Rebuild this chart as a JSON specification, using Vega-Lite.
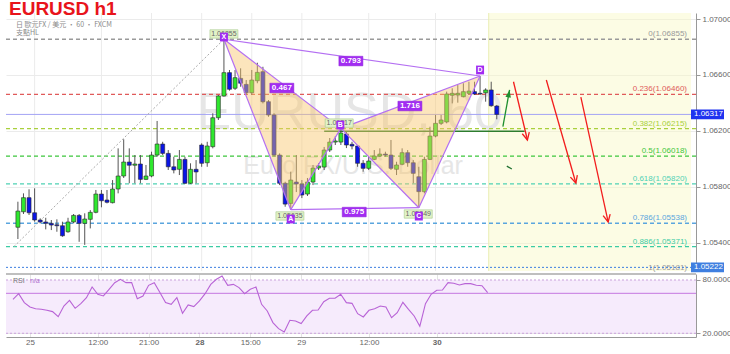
{
  "$schema": "https://vega.github.io/schema/vega-lite/v6.json",
  "padding": {"left": 5, "top": 0, "right": 0, "bottom": 0},
  "background": "white",
  "spacing": 0,
  "config": {"font": "Liberation Sans", "view": {"stroke": null}},
  "datasets": {
    "one": [{}],
    "vgrid": [{"g":3},{"g":15},{"g":24},{"g":33},{"g":42},{"g":51},{"g":63},{"g":75}],
    "candles": [
      {"i":0,"o":1.05509,"h":1.05692,"l":1.05425,"c":1.05625},
      {"i":1,"o":1.05620,"h":1.05752,"l":1.05604,"c":1.05721},
      {"i":2,"o":1.05721,"h":1.05781,"l":1.05597,"c":1.05613},
      {"i":3,"o":1.05613,"h":1.05788,"l":1.05549,"c":1.05561},
      {"i":4,"o":1.05561,"h":1.05573,"l":1.05537,"c":1.05547},
      {"i":5,"o":1.05547,"h":1.05577,"l":1.05494,"c":1.05537},
      {"i":6,"o":1.05537,"h":1.05561,"l":1.05489,"c":1.05525},
      {"i":7,"o":1.05527,"h":1.05566,"l":1.05477,"c":1.05520},
      {"i":8,"o":1.05520,"h":1.05549,"l":1.05441,"c":1.05448},
      {"i":9,"o":1.05477,"h":1.05577,"l":1.05470,"c":1.05547},
      {"i":10,"o":1.05547,"h":1.05604,"l":1.05537,"c":1.05594},
      {"i":11,"o":1.05594,"h":1.05604,"l":1.05405,"c":1.05537},
      {"i":12,"o":1.05537,"h":1.05609,"l":1.05383,"c":1.05568},
      {"i":13,"o":1.05566,"h":1.05632,"l":1.05501,"c":1.05616},
      {"i":14,"o":1.05616,"h":1.05776,"l":1.05609,"c":1.05747},
      {"i":15,"o":1.05747,"h":1.05776,"l":1.05652,"c":1.05699},
      {"i":16,"o":1.05704,"h":1.05776,"l":1.05680,"c":1.05688},
      {"i":17,"o":1.05685,"h":1.05847,"l":1.05680,"c":1.05783},
      {"i":18,"o":1.05783,"h":1.06074,"l":1.05752,"c":1.05876},
      {"i":19,"o":1.05876,"h":1.06139,"l":1.05862,"c":1.05976},
      {"i":20,"o":1.05976,"h":1.06074,"l":1.05824,"c":1.05953},
      {"i":21,"o":1.05953,"h":1.06026,"l":1.05824,"c":1.05962},
      {"i":22,"o":1.05962,"h":1.06026,"l":1.05824,"c":1.05852},
      {"i":23,"o":1.05852,"h":1.05955,"l":1.05847,"c":1.05876},
      {"i":24,"o":1.05876,"h":1.06050,"l":1.05867,"c":1.06026},
      {"i":25,"o":1.06026,"h":1.06270,"l":1.06014,"c":1.06105},
      {"i":26,"o":1.06105,"h":1.06121,"l":1.06026,"c":1.06038},
      {"i":27,"o":1.06038,"h":1.06062,"l":1.05919,"c":1.05942},
      {"i":28,"o":1.05942,"h":1.06014,"l":1.05895,"c":1.05919},
      {"i":29,"o":1.05924,"h":1.06062,"l":1.05883,"c":1.05995},
      {"i":30,"o":1.05995,"h":1.06014,"l":1.05819,"c":1.05824},
      {"i":31,"o":1.05824,"h":1.05967,"l":1.05819,"c":1.05924},
      {"i":32,"o":1.05924,"h":1.05990,"l":1.05824,"c":1.05905},
      {"i":33,"o":1.06098,"h":1.06110,"l":1.05942,"c":1.05967},
      {"i":34,"o":1.05971,"h":1.06121,"l":1.05942,"c":1.06091},
      {"i":35,"o":1.06086,"h":1.06325,"l":1.06074,"c":1.06293},
      {"i":36,"o":1.06293,"h":1.06456,"l":1.06277,"c":1.06449},
      {"i":37,"o":1.06449,"h":1.06855,"l":1.06444,"c":1.06616},
      {"i":38,"o":1.06616,"h":1.06635,"l":1.06487,"c":1.06497},
      {"i":39,"o":1.06504,"h":1.06635,"l":1.06492,"c":1.06580},
      {"i":40,"o":1.06575,"h":1.06647,"l":1.06515,"c":1.06540},
      {"i":41,"o":1.06532,"h":1.06563,"l":1.06456,"c":1.06472},
      {"i":42,"o":1.06472,"h":1.06635,"l":1.06456,"c":1.06563},
      {"i":43,"o":1.06558,"h":1.06687,"l":1.06540,"c":1.06618},
      {"i":44,"o":1.06623,"h":1.06658,"l":1.06396,"c":1.06408},
      {"i":45,"o":1.06408,"h":1.06420,"l":1.06300,"c":1.06313},
      {"i":46,"o":1.06313,"h":1.06325,"l":1.06014,"c":1.06026},
      {"i":47,"o":1.06026,"h":1.06038,"l":1.05811,"c":1.05824},
      {"i":48,"o":1.05824,"h":1.05835,"l":1.05656,"c":1.05675},
      {"i":49,"o":1.05680,"h":1.05907,"l":1.05635,"c":1.05847},
      {"i":50,"o":1.05833,"h":1.06026,"l":1.05761,"c":1.05819},
      {"i":51,"o":1.05819,"h":1.05847,"l":1.05718,"c":1.05740},
      {"i":52,"o":1.05747,"h":1.05862,"l":1.05733,"c":1.05833},
      {"i":53,"o":1.05833,"h":1.05955,"l":1.05811,"c":1.05933},
      {"i":54,"o":1.05933,"h":1.05969,"l":1.05919,"c":1.05948},
      {"i":55,"o":1.05940,"h":1.06084,"l":1.05919,"c":1.06062},
      {"i":56,"o":1.06062,"h":1.06148,"l":1.06048,"c":1.06119},
      {"i":57,"o":1.06119,"h":1.06162,"l":1.06098,"c":1.06127},
      {"i":58,"o":1.06119,"h":1.06217,"l":1.06098,"c":1.06184},
      {"i":59,"o":1.06177,"h":1.06191,"l":1.06076,"c":1.06098},
      {"i":60,"o":1.06103,"h":1.06121,"l":1.06067,"c":1.06091},
      {"i":61,"o":1.06091,"h":1.06098,"l":1.05942,"c":1.05967},
      {"i":62,"o":1.05967,"h":1.05990,"l":1.05907,"c":1.05931},
      {"i":63,"o":1.05931,"h":1.06014,"l":1.05919,"c":1.05983},
      {"i":64,"o":1.05995,"h":1.06062,"l":1.05990,"c":1.06019},
      {"i":65,"o":1.06019,"h":1.06074,"l":1.06014,"c":1.06033},
      {"i":66,"o":1.06033,"h":1.06050,"l":1.06014,"c":1.06026},
      {"i":67,"o":1.06026,"h":1.06134,"l":1.05919,"c":1.05931},
      {"i":68,"o":1.05924,"h":1.05978,"l":1.05883,"c":1.05955},
      {"i":69,"o":1.05960,"h":1.06074,"l":1.05953,"c":1.06043},
      {"i":70,"o":1.06043,"h":1.06062,"l":1.05942,"c":1.05971},
      {"i":71,"o":1.05971,"h":1.05990,"l":1.05824,"c":1.05895},
      {"i":72,"o":1.05871,"h":1.05942,"l":1.05649,"c":1.05764},
      {"i":73,"o":1.05764,"h":1.06014,"l":1.05752,"c":1.05995},
      {"i":74,"o":1.05995,"h":1.06229,"l":1.05990,"c":1.06162},
      {"i":75,"o":1.06162,"h":1.06313,"l":1.06153,"c":1.06253},
      {"i":76,"o":1.06253,"h":1.06313,"l":1.06241,"c":1.06277},
      {"i":77,"o":1.06263,"h":1.06480,"l":1.06253,"c":1.06463},
      {"i":78,"o":1.06454,"h":1.06504,"l":1.06396,"c":1.06468},
      {"i":79,"o":1.06456,"h":1.06527,"l":1.06401,"c":1.06468},
      {"i":80,"o":1.06444,"h":1.06540,"l":1.06439,"c":1.06480},
      {"i":81,"o":1.06468,"h":1.06551,"l":1.06456,"c":1.06484},
      {"i":82,"o":1.06480,"h":1.06551,"l":1.06456,"c":1.06463},
      {"i":83,"o":1.06468,"h":1.06592,"l":1.06456,"c":1.06463},
      {"i":84,"o":1.06472,"h":1.06504,"l":1.06408,"c":1.06492},
      {"i":85,"o":1.06492,"h":1.06551,"l":1.06372,"c":1.06379},
      {"i":86,"o":1.06377,"h":1.06384,"l":1.06282,"c":1.06317}
    ],
    "rsi": [
      {"i":0,"v":58.2},{"i":1,"v":64.6},{"i":2,"v":54.5},{"i":3,"v":49.6},{"i":4,"v":47.7},
      {"i":5,"v":47.0},{"i":6,"v":45.9},{"i":7,"v":44.4},{"i":8,"v":38.7},{"i":9,"v":50.7},
      {"i":10,"v":57.1},{"i":11,"v":48.1},{"i":12,"v":53.4},{"i":13,"v":60.1},{"i":14,"v":72.1},
      {"i":15,"v":63.9},{"i":16,"v":62.0},{"i":17,"v":69.5},{"i":18,"v":77.0},{"i":19,"v":80.8},
      {"i":20,"v":77.0},{"i":21,"v":77.0},{"i":22,"v":59.0},{"i":23,"v":62.0},{"i":24,"v":74.0},
      {"i":25,"v":77.0},{"i":26,"v":65.8},{"i":27,"v":54.5},{"i":28,"v":52.6},{"i":29,"v":60.1},
      {"i":30,"v":42.5},{"i":31,"v":51.9},{"i":32,"v":50.0},{"i":33,"v":56.4},{"i":34,"v":64.6},
      {"i":35,"v":75.1},{"i":36,"v":80.8},{"i":37,"v":84.5},{"i":38,"v":74.0},{"i":39,"v":75.1},
      {"i":40,"v":71.4},{"i":41,"v":64.6},{"i":42,"v":69.5},{"i":43,"v":72.1},{"i":44,"v":52.6},
      {"i":45,"v":45.1},{"i":46,"v":32.0},{"i":47,"v":25.2},{"i":48,"v":21.5},{"i":49,"v":34.6},
      {"i":50,"v":33.9},{"i":51,"v":30.9},{"i":52,"v":39.5},{"i":53,"v":45.9},{"i":54,"v":46.2},
      {"i":55,"v":55.6},{"i":56,"v":59.4},{"i":57,"v":59.4},{"i":58,"v":63.9},{"i":59,"v":54.5},
      {"i":60,"v":53.7},{"i":61,"v":42.1},{"i":62,"v":38.4},{"i":63,"v":45.9},{"i":64,"v":47.7},
      {"i":65,"v":50.7},{"i":66,"v":49.6},{"i":67,"v":37.6},{"i":68,"v":43.2},{"i":69,"v":54.9},
      {"i":70,"v":47.0},{"i":71,"v":39.5},{"i":72,"v":27.9},{"i":73,"v":53.4},{"i":74,"v":63.9},
      {"i":75,"v":68.4},{"i":76,"v":68.7},{"i":77,"v":77.0},{"i":78,"v":76.3},{"i":79,"v":74.4},
      {"i":80,"v":75.9},{"i":81,"v":75.9},{"i":82,"v":74.0},{"i":83,"v":73.6},{"i":84,"v":65.8}
    ],
    "fib": [
      {"lvl":"0","p":1.06855,"t":"0(1.06855)"},
      {"lvl":"0.236","p":1.0646,"t":"0.236(1.06460)"},
      {"lvl":"0.382","p":1.06215,"t":"0.382(1.06215)"},
      {"lvl":"0.5","p":1.06018,"t":"0.5(1.06018)"},
      {"lvl":"0.618","p":1.0582,"t":"0.618(1.05820)"},
      {"lvl":"0.786","p":1.05538,"t":"0.786(1.05538)"},
      {"lvl":"0.886","p":1.05371,"t":"0.886(1.05371)"},
      {"lvl":"1","p":1.05181,"t":"1(1.05181)"}
    ],
    "tri": [
      {"tri":"XAB","i":37,"p":1.06855},{"tri":"XAB","i":49,"p":1.05635},{"tri":"XAB","i":58,"p":1.06217},
      {"tri":"BCD","i":58,"p":1.06217},{"tri":"BCD","i":72,"p":1.05649},{"tri":"BCD","i":83,"p":1.06592}
    ],
    "segs": [
      {"s":"XA","i":37,"p":1.06855},{"s":"XA","i":49,"p":1.05635},
      {"s":"AB","i":49,"p":1.05635},{"s":"AB","i":58,"p":1.06217},
      {"s":"BC","i":58,"p":1.06217},{"s":"BC","i":72,"p":1.05649},
      {"s":"CD","i":72,"p":1.05649},{"s":"CD","i":83,"p":1.06592},
      {"s":"XB","i":37,"p":1.06855},{"s":"XB","i":58,"p":1.06217},
      {"s":"BD","i":58,"p":1.06217},{"s":"BD","i":83,"p":1.06592},
      {"s":"XD","i":37,"p":1.06855},{"s":"XD","i":83,"p":1.06592},
      {"s":"AC","i":49,"p":1.05635},{"s":"AC","i":72,"p":1.05649}
    ],
    "ratios": [
      {"t":"0.467","i":47.4,"p":1.06506},
      {"t":"0.793","i":59.8,"p":1.06699},
      {"t":"1.716","i":70.4,"p":1.06377},
      {"t":"0.975","i":60.4,"p":1.05618}
    ],
    "prices": [
      {"t":"1.06855","i":37,"p":1.06893},
      {"t":"1.05635","i":48.85,"p":1.0559},
      {"t":"1.06217","i":57.7,"p":1.06255},
      {"t":"1.05649","i":71.9,"p":1.05604}
    ],
    "letters": [
      {"t":"X","i":37,"p":1.06871},
      {"t":"A","i":49,"p":1.05568},
      {"t":"B","i":57.9,"p":1.06241},
      {"t":"C","i":72,"p":1.05589},
      {"t":"D","i":83,"p":1.06635}
    ],
    "arrows": [
      {"a":"g","i":87.1,"p":1.06229},{"a":"g","i":88.3,"p":1.06492},
      {"a":"r1","i":89.0,"p":1.06551},{"a":"r1","i":91.5,"p":1.06134},
      {"a":"r2","i":94.9,"p":1.06563},{"a":"r2","i":100.2,"p":1.05826},
      {"a":"r3","i":101.1,"p":1.06441},{"a":"r3","i":106.0,"p":1.05547},
      {"a":"k","i":87.8,"p":1.05947},{"a":"k","i":88.7,"p":1.05926}
    ],
    "diag": [{"i":-0.7,"p":1.05371},{"i":37,"p":1.06855}]
  },
  "vconcat": [
    {
      "width": 690,
      "height": 258,
      "layer": [
        {
          "data": {"name": "one"},
          "mark": {"type": "rect", "fill": "#f8f8c4", "fillOpacity": 0.45},
          "encoding": {
            "x": {"datum": 84.55, "type": "quantitative", "scale": {"domain": [-1.24, 120.88], "nice": false, "zero": false}, "axis": null},
            "x2": {"datum": 120.88},
            "y": {"datum": 1.07043, "type": "quantitative", "scale": {"domain": [1.05196, 1.07043], "nice": false, "zero": false},
              "axis": {"orient": "right", "values": [1.054,1.056,1.058,1.06,1.062,1.064,1.066,1.068,1.07], "format": ".5f", "grid": true, "gridColor": "#ebebeb", "labelFontSize": 8, "labelColor": "#666", "tickSize": 4, "tickColor": "#999", "domainColor": "#999", "labelPadding": 2, "title": null}},
            "y2": {"datum": 1.05196}
          }
        },
        {
          "data": {"name": "vgrid"},
          "mark": {"type": "rule", "color": "#ebebeb", "strokeWidth": 1},
          "encoding": {"x": {"field": "g", "type": "quantitative"}}
        },
        {
          "data": {"name": "one"},
          "mark": {"type": "rule", "color": "#eaeeb4", "strokeWidth": 1},
          "encoding": {"x": {"datum": 84.55, "type": "quantitative"}}
        },
        {
          "data": {"name": "one"},
          "mark": {"type": "text", "fontSize": 52, "color": "#e6e6e6", "align": "center", "baseline": "middle"},
          "encoding": {"x": {"datum": 59.6, "type": "quantitative"}, "y": {"datum": 1.06327, "type": "quantitative"}, "text": {"value": "EURUSD, 60"}}
        },
        {
          "data": {"name": "one"},
          "mark": {"type": "text", "fontSize": 25, "color": "#e6e6e6", "align": "center", "baseline": "middle"},
          "encoding": {"x": {"datum": 60.2, "type": "quantitative"}, "y": {"datum": 1.05947, "type": "quantitative"}, "text": {"value": "Euro FX/U.S. Dollar"}}
        },
        {
          "data": {"name": "fib"},
          "transform": [{"filter": "datum.lvl != '1'"}],
          "mark": {"type": "rule", "strokeDash": [4, 3], "strokeWidth": 1.3},
          "encoding": {
            "y": {"field": "p", "type": "quantitative"},
            "color": {"field": "lvl", "type": "nominal", "legend": null,
              "scale": {"domain": ["0","0.236","0.382","0.5","0.618","0.786","0.886","1"], "range": ["#9a9a9a","#e05a5a","#a9d03c","#3cc63c","#4fd1b4","#5aa5de","#3ccca4","#9a9a9a"]}}
          }
        },
        {
          "data": {"name": "fib"},
          "mark": {"type": "text", "fontSize": 8, "align": "right", "baseline": "bottom", "dx": -4, "dy": -1},
          "encoding": {
            "x": {"datum": 120.88, "type": "quantitative"},
            "y": {"field": "p", "type": "quantitative"},
            "text": {"field": "t"},
            "color": {"field": "lvl", "type": "nominal", "legend": null}
          }
        },
        {
          "data": {"name": "one"},
          "mark": {"type": "rule", "color": "#a3a3f5", "strokeWidth": 1},
          "encoding": {"y": {"datum": 1.06317, "type": "quantitative"}}
        },
        {
          "data": {"name": "one"},
          "mark": {"type": "rule", "color": "#3d7fe0", "strokeWidth": 1, "strokeDash": [2, 2]},
          "encoding": {"y": {"datum": 1.05222, "type": "quantitative"}}
        },
        {
          "data": {"name": "one"},
          "mark": {"type": "rule", "color": "#2e7d2e", "strokeWidth": 1.5},
          "encoding": {"x": {"datum": 55, "type": "quantitative"}, "x2": {"datum": 91}, "y": {"datum": 1.06197, "type": "quantitative"}}
        },
        {
          "data": {"name": "diag"},
          "mark": {"type": "line", "color": "#aaaaaa", "strokeWidth": 1, "strokeDash": [2, 2]},
          "encoding": {"x": {"field": "i", "type": "quantitative"}, "y": {"field": "p", "type": "quantitative"}}
        },
        {
          "data": {"name": "candles"},
          "mark": {"type": "rule", "color": "#555555", "strokeWidth": 1},
          "encoding": {"x": {"field": "i", "type": "quantitative"}, "y": {"field": "l", "type": "quantitative"}, "y2": {"field": "h"}}
        },
        {
          "data": {"name": "candles"},
          "mark": {"type": "bar", "width": 4, "stroke": "#2a2a2a", "strokeWidth": 0.6},
          "encoding": {
            "x": {"field": "i", "type": "quantitative"},
            "y": {"field": "o", "type": "quantitative"},
            "y2": {"field": "c"},
            "fill": {"condition": {"test": "datum.c >= datum.o", "value": "#2ee82e"}, "value": "#0a14e6"}
          }
        },
        {
          "data": {"name": "tri"},
          "mark": {"type": "line", "fill": "#f8c56a", "fillOpacity": 0.45, "strokeOpacity": 0},
          "encoding": {"x": {"field": "i", "type": "quantitative"}, "y": {"field": "p", "type": "quantitative"}, "detail": {"field": "tri"}}
        },
        {
          "data": {"name": "segs"},
          "mark": {"type": "line", "color": "#b46ff2", "strokeWidth": 1.2},
          "encoding": {"x": {"field": "i", "type": "quantitative"}, "y": {"field": "p", "type": "quantitative"}, "detail": {"field": "s"}}
        },
        {
          "data": {"name": "ratios"},
          "mark": {"type": "point", "shape": "M-1,-0.4H1V0.4H-1Z", "size": 576, "filled": true, "fill": "#a22cf2", "opacity": 1, "stroke": "#8a1ed8", "strokeWidth": 0.5},
          "encoding": {"x": {"field": "i", "type": "quantitative"}, "y": {"field": "p", "type": "quantitative"}}
        },
        {
          "data": {"name": "ratios"},
          "mark": {"type": "text", "fontSize": 8, "fontWeight": "bold", "color": "white", "align": "center", "baseline": "middle"},
          "encoding": {"x": {"field": "i", "type": "quantitative"}, "y": {"field": "p", "type": "quantitative"}, "text": {"field": "t"}}
        },
        {
          "data": {"name": "prices"},
          "mark": {"type": "point", "shape": "M-1,-0.3H1V0.3H-1Z", "size": 784, "filled": true, "fill": "#e2f3c8", "opacity": 1, "stroke": "#a6c98c", "strokeWidth": 0.6},
          "encoding": {"x": {"field": "i", "type": "quantitative"}, "y": {"field": "p", "type": "quantitative"}}
        },
        {
          "data": {"name": "prices"},
          "mark": {"type": "text", "fontSize": 7, "color": "#666666", "align": "center", "baseline": "middle"},
          "encoding": {"x": {"field": "i", "type": "quantitative"}, "y": {"field": "p", "type": "quantitative"}, "text": {"field": "t"}}
        },
        {
          "data": {"name": "letters"},
          "mark": {"type": "point", "shape": "M-1,-1.1H1V1.1H-1Z", "size": 64, "filled": true, "fill": "#a22cf2", "opacity": 1},
          "encoding": {"x": {"field": "i", "type": "quantitative"}, "y": {"field": "p", "type": "quantitative"}}
        },
        {
          "data": {"name": "letters"},
          "mark": {"type": "text", "fontSize": 7, "fontWeight": "bold", "color": "white", "align": "center", "baseline": "middle"},
          "encoding": {"x": {"field": "i", "type": "quantitative"}, "y": {"field": "p", "type": "quantitative"}, "text": {"field": "t"}}
        },
        {
          "data": {"name": "arrows"},
          "transform": [{"filter": "datum.a == 'r1' || datum.a == 'r2' || datum.a == 'r3'"}],
          "mark": {"type": "line", "strokeWidth": 1.3, "color": "#f21d1d"},
          "encoding": {"x": {"field": "i", "type": "quantitative"}, "y": {"field": "p", "type": "quantitative"}, "detail": {"field": "a"}}
        },
        {
          "data": {"name": "arrows"},
          "transform": [{"filter": "datum.a == 'g'"}],
          "mark": {"type": "line", "strokeWidth": 1.3, "color": "#1f8f2f"},
          "encoding": {"x": {"field": "i", "type": "quantitative"}, "y": {"field": "p", "type": "quantitative"}}
        },
        {
          "data": {"name": "arrows"},
          "transform": [{"filter": "datum.a == 'k'"}],
          "mark": {"type": "line", "strokeWidth": 1.3, "color": "#1f6f2f"},
          "encoding": {"x": {"field": "i", "type": "quantitative"}, "y": {"field": "p", "type": "quantitative"}}
        },
        {
          "data": {"name": "arrows"},
          "transform": [{"filter": "datum.a == 'g' && datum.i == 88.3"}],
          "mark": {"type": "point", "shape": "M0,0L-0.55,1.5L0.55,1.5Z", "size": 100, "filled": true, "fill": "#1f8f2f", "opacity": 1, "angle": 11},
          "encoding": {"x": {"field": "i", "type": "quantitative"}, "y": {"field": "p", "type": "quantitative"}}
        },
        {
          "data": {"name": "arrows"},
          "transform": [{"filter": "datum.a == 'r1' && datum.i == 91.5"}],
          "mark": {"type": "point", "shape": "M-0.6,-1.2L0,0L0.6,-1.2", "size": 144, "filled": false, "stroke": "#f21d1d", "strokeWidth": 1.3, "opacity": 1, "angle": -13},
          "encoding": {"x": {"field": "i", "type": "quantitative"}, "y": {"field": "p", "type": "quantitative"}}
        },
        {
          "data": {"name": "arrows"},
          "transform": [{"filter": "datum.a == 'r2' && datum.i == 100.2"}],
          "mark": {"type": "point", "shape": "M-0.6,-1.2L0,0L0.6,-1.2", "size": 144, "filled": false, "stroke": "#f21d1d", "strokeWidth": 1.3, "opacity": 1, "angle": -16},
          "encoding": {"x": {"field": "i", "type": "quantitative"}, "y": {"field": "p", "type": "quantitative"}}
        },
        {
          "data": {"name": "arrows"},
          "transform": [{"filter": "datum.a == 'r3' && datum.i == 106.0"}],
          "mark": {"type": "point", "shape": "M-0.6,-1.2L0,0L0.6,-1.2", "size": 144, "filled": false, "stroke": "#f21d1d", "strokeWidth": 1.3, "opacity": 1, "angle": -12},
          "encoding": {"x": {"field": "i", "type": "quantitative"}, "y": {"field": "p", "type": "quantitative"}}
        },
        {
          "data": {"name": "one"},
          "mark": {"type": "point", "shape": "M0,-0.3H2V0.3H0Z", "size": 1089, "filled": true, "fill": "#1f33f0", "opacity": 1},
          "encoding": {"x": {"datum": 120.88, "type": "quantitative"}, "y": {"datum": 1.06317, "type": "quantitative"}}
        },
        {
          "data": {"name": "one"},
          "mark": {"type": "text", "fontSize": 8, "color": "white", "align": "left", "baseline": "middle", "dx": 3},
          "encoding": {"x": {"datum": 120.88, "type": "quantitative"}, "y": {"datum": 1.06317, "type": "quantitative"}, "text": {"value": "1.06317"}}
        },
        {
          "data": {"name": "one"},
          "mark": {"type": "point", "shape": "M0,-0.3H2V0.3H0Z", "size": 1089, "filled": true, "fill": "#3f7fe0", "opacity": 1},
          "encoding": {"x": {"datum": 120.88, "type": "quantitative"}, "y": {"datum": 1.05222, "type": "quantitative"}}
        },
        {
          "data": {"name": "one"},
          "mark": {"type": "text", "fontSize": 8, "color": "white", "align": "left", "baseline": "middle", "dx": 3},
          "encoding": {"x": {"datum": 120.88, "type": "quantitative"}, "y": {"datum": 1.05222, "type": "quantitative"}, "text": {"value": "1.05222"}}
        },
        {
          "data": {"name": "one"},
          "mark": {"type": "text", "fontSize": 7, "color": "#8a8a8a", "align": "left", "baseline": "middle", "dx": 5, "dy": 12, "font": "Noto Sans CJK TC"},
          "encoding": {"x": {"datum": -1.24, "type": "quantitative"}, "y": {"datum": 1.07043, "type": "quantitative"}, "text": {"value": "日 歐元FX / 美元 · 60 · FXCM"}}
        },
        {
          "data": {"name": "one"},
          "mark": {"type": "text", "fontSize": 7, "color": "#8a8a8a", "align": "left", "baseline": "middle", "dx": 5, "dy": 20, "font": "Noto Sans CJK TC"},
          "encoding": {"x": {"datum": -1.24, "type": "quantitative"}, "y": {"datum": 1.07043, "type": "quantitative"}, "text": {"value": "支點HL"}}
        },
        {
          "data": {"name": "one"},
          "mark": {"type": "text", "fontSize": 19, "fontWeight": "bold", "color": "#e8141b", "align": "left", "baseline": "top", "dx": -2, "dy": -13},
          "encoding": {"x": {"datum": -1.24, "type": "quantitative"}, "y": {"datum": 1.07043, "type": "quantitative"}, "text": {"value": "EURUSD h1"}}
        }
      ]
    },
    {
      "width": 690,
      "height": 63,
      "layer": [
        {
          "data": {"name": "one"},
          "mark": {"type": "rect", "fill": "#f6ebfc"},
          "encoding": {
            "x": {"datum": -1.24, "type": "quantitative", "scale": {"domain": [-1.24, 120.88], "nice": false, "zero": false},
              "axis": {"values": [3,15,24,33,42,51,63,75], "labelExpr": "datum.value == 3 ? '25' : datum.value == 15 ? '12:00' : datum.value == 24 ? '21:00' : datum.value == 33 ? '28' : datum.value == 42 ? '15:00' : datum.value == 51 ? '29' : datum.value == 63 ? '12:00' : '30'",
                "labelFontSize": 8, "labelColor": "#666", "ticks": false, "grid": true, "gridColor": "#e4e4e4", "domainColor": "#999", "labelPadding": 1, "title": null,
                "labelFontWeight": {"condition": {"test": "datum.value == 33 || datum.value == 75", "value": "bold"}, "value": "normal"}}},
            "x2": {"datum": 120.88},
            "y": {"datum": 80, "type": "quantitative", "scale": {"domain": [15.8, 86.75], "nice": false, "zero": false},
              "axis": {"orient": "right", "values": [20, 40, 60, 80], "format": ".4f", "grid": true, "gridColor": "#e2e2e2", "labelFontSize": 8, "labelColor": "#666", "tickSize": 4, "tickColor": "#999", "domainColor": "#999", "labelPadding": 2, "title": null}},
            "y2": {"datum": 20}
          }
        },
        {
          "data": {"name": "one"},
          "mark": {"type": "rule", "color": "#c9a0dc", "strokeDash": [2, 2], "strokeWidth": 1},
          "encoding": {"y": {"datum": 80, "type": "quantitative"}}
        },
        {
          "data": {"name": "one"},
          "mark": {"type": "rule", "color": "#c9a0dc", "strokeDash": [2, 2], "strokeWidth": 1},
          "encoding": {"y": {"datum": 20, "type": "quantitative"}}
        },
        {
          "data": {"name": "one"},
          "mark": {"type": "rule", "color": "#aaaaaa", "strokeWidth": 1.5},
          "encoding": {"y": {"datum": 86.75, "type": "quantitative"}}
        },
        {
          "data": {"name": "one"},
          "mark": {"type": "rule", "color": "#c477e0", "strokeWidth": 1},
          "encoding": {"y": {"datum": 65, "type": "quantitative"}}
        },
        {
          "data": {"name": "rsi"},
          "mark": {"type": "line", "color": "#b863d6", "strokeWidth": 1.1},
          "encoding": {"x": {"field": "i", "type": "quantitative"}, "y": {"field": "v", "type": "quantitative"}}
        },
        {
          "data": {"name": "one"},
          "mark": {"type": "text", "fontSize": 7, "color": "#777", "align": "left", "baseline": "middle", "dx": 7, "dy": 7},
          "encoding": {"x": {"datum": -1.24, "type": "quantitative"}, "y": {"datum": 86.75, "type": "quantitative"}, "text": {"value": "RSI"}}
        },
        {
          "data": {"name": "one"},
          "mark": {"type": "text", "fontSize": 7, "color": "#b070d0", "align": "left", "baseline": "middle", "dx": 24, "dy": 7},
          "encoding": {"x": {"datum": -1.24, "type": "quantitative"}, "y": {"datum": 86.75, "type": "quantitative"}, "text": {"value": "n/a"}}
        }
      ]
    }
  ]
}
